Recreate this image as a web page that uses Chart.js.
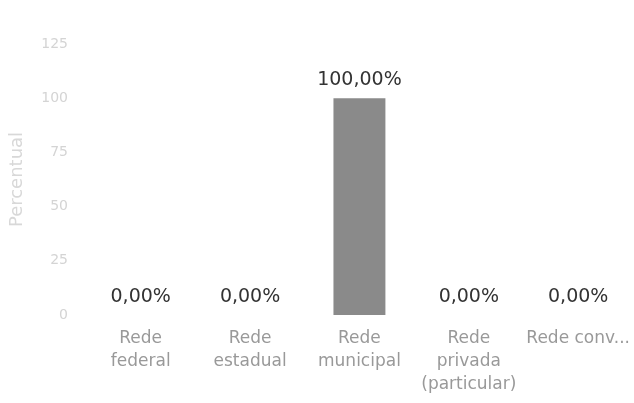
<!DOCTYPE html>
<html>
<head>
<meta charset="utf-8">
<script src="https://cdn.jsdelivr.net/npm/chart.js@4"></script>
<style>
html,body{margin:0;padding:0;background:#fff;}
#c{display:block;}
</style>
</head>
<body>
<canvas id="c" width="634" height="403"></canvas>
<script>
const categories = [["Rede","federal"],["Rede","estadual"],["Rede","municipal"],["Rede","privada","(particular)"],["Rede conv..."]];
const values = [0, 0, 100, 0, 0];
const valueLabels = ["0,00%","0,00%","100,00%","0,00%","0,00%"];
const yTicks = [0, 25, 50, 75, 100, 125];
const yTitle = "Percentual";

const FONT = "'DejaVu Sans', sans-serif";

const valueLabelPlugin = {
  id: 'valueLabels',
  afterDatasetsDraw(chart) {
    const ctx = chart.ctx;
    const meta = chart.getDatasetMeta(0);
    ctx.save();
    ctx.font = "19px " + FONT;
    ctx.fillStyle = "#333";
    ctx.textAlign = "center";
    ctx.textBaseline = "middle";
    meta.data.forEach((bar, i) => {
      ctx.fillText(valueLabels[i], bar.x, bar.y - 18);
    });
    ctx.restore();
  }
};

new Chart(document.getElementById('c'), {
  type: 'bar',
  data: {
    labels: categories,
    datasets: [{
      data: values,
      backgroundColor: '#8a8a8a',
      barPercentage: 0.475,
      categoryPercentage: 1
    }]
  },
  options: {
    responsive: false,
    animation: false,
    layout: { padding: { top: 44, right: 0, left: 0, bottom: 0 } },
    plugins: { legend: { display: false }, tooltip: { enabled: false } },
    scales: {
      x: {
        grid: { display: false },
        border: { display: false },
        ticks: {
          color: '#999999',
          font: { family: FONT, size: 17, lineHeight: 1.35 },
          maxRotation: 0,
          autoSkip: false,
          padding: 4
        },
        afterFit(scale) { scale.height = 88; }
      },
      y: {
        min: 0,
        max: 125,
        afterBuildTicks(scale) { scale.ticks = yTicks.map(v => ({ value: v })); },
        grid: { display: false },
        border: { display: false },
        ticks: {
          color: '#d4d4d4',
          font: { family: FONT, size: 14 },
          padding: 10
        },
        title: {
          display: true,
          text: yTitle,
          color: '#d8d8d8',
          font: { family: FONT, size: 18 },
          padding: { top: 7, bottom: 4 }
        },
        afterFit(scale) { scale.width = 86; }
      }
    }
  },
  plugins: [valueLabelPlugin]
});
</script>
</body>
</html>
